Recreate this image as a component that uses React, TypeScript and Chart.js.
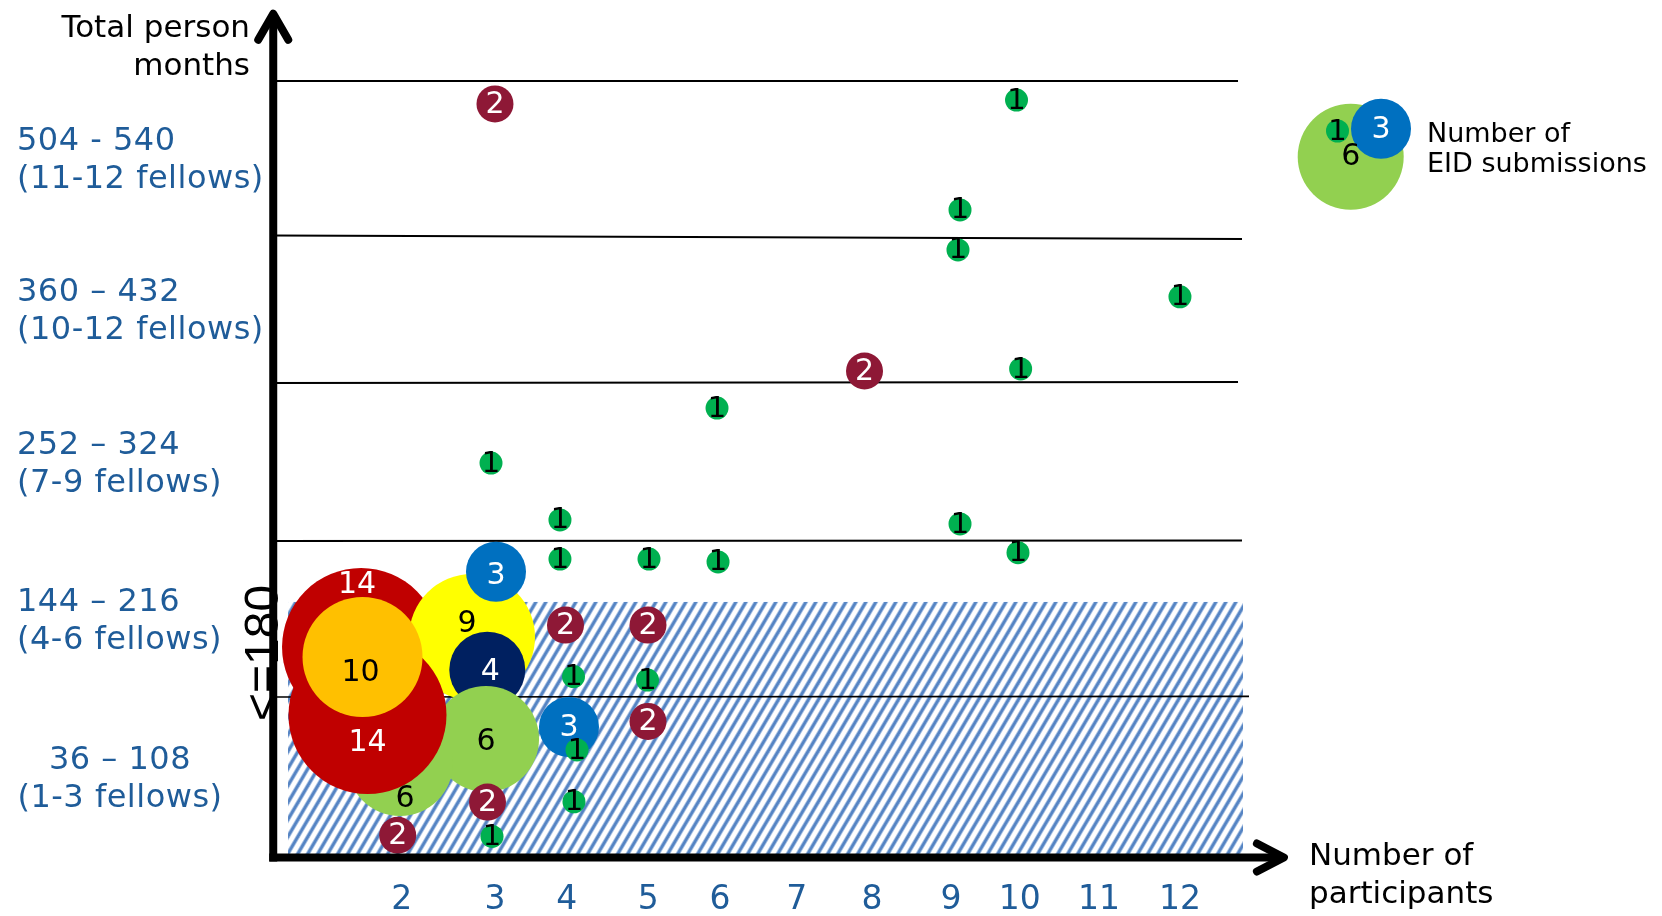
import React, { useEffect, useRef } from "react";
import { Chart, registerables } from "chart.js";

Chart.register(...registerables);

// ---------------- DATA ----------------
// Participant tick labels and where each one sits on the drawn axis (axis units)
const xTickLabels = ["2", "3", "4", "5", "6", "7", "8", "9", "10", "11", "12"];
const xTickPositions = [2.0, 3.199, 4.12, 5.169, 6.09, 7.076, 8.043, 9.059, 9.941, 10.96, 12.0];

// Person-month bands (y axis in band units, one band per unit)
const bandRanges = ["36 – 108", "144 – 216", "252 – 324", "360 – 432", "504 - 540"];
const bandFellows = ["(1-3 fellows)", "(4-6 fellows)", "(7-9 fellows)", "(10-12 fellows)", "(11-12 fellows)"];
const bandLineLeftY = [1.026, 2.032, 3.052, 4.003, 5.0];
const bandLineRightY = [1.03, 2.035, 3.058, 3.981, 5.0];
const bandLineEndX = [12.887, 12.797, 12.746, 12.797, 12.746];

// "<=180" person-month zone
const capText = "<=180";
const capTopY = 1.639;
const capStartX = 0.54;
const capEndX = 12.81;
const capLabelY = 1.31;

// Bubbles with several EID submissions (listed back to front)
const clusterParticipants = [1.478, 2.904, 3.1, 3.084, 1.979, 1.561, 1.497, 3.212, 4.15, 3.199, 7.947, 4.105, 5.165, 5.165, 3.103, 1.949];
const clusterMonths = [1.348, 1.413, 1.202, 0.755, 0.6, 0.91, 1.284, 1.834, 0.832, 4.852, 3.129, 1.49, 1.49, 0.868, 0.348, 0.134];
const clusterSubmissions = [14, 9, 4, 6, 6, 14, 10, 3, 3, 2, 2, 2, 2, 2, 2, 2];

// Bubbles with a single EID submission
const singleParticipants = [9.9, 9.174, 9.148, 12.0, 9.953, 6.052, 3.148, 4.034, 9.174, 4.034, 5.178, 6.065, 9.919, 4.208, 5.159, 4.253, 4.214, 3.161];
const singleMonths = [4.877, 4.168, 3.91, 3.608, 3.142, 2.89, 2.535, 2.168, 2.142, 1.916, 1.916, 1.897, 1.957, 1.158, 1.135, 0.684, 0.35, 0.126];
const singleSubmissions = [1, 1, 1, 1, 1, 1, 1, 1, 1, 1, 1, 1, 1, 1, 1, 1, 1, 1];

// Legend key samples
const legendSamples = [6, 1, 3];

// ---------------- STYLE / LAYOUT ----------------
const W = 1662;
const H = 916;
const X_MIN = 0.35;
const X_MAX = 13.4;
const PX_PER_X = 77.83;
const X_ZERO_PX = 246;
const Y_MIN = 0;
const Y_MAX = 5.46;
const PX_PER_Y = 155;
const Y_ZERO_PX = 856;

const FONT = '"DejaVu Sans", Verdana, sans-serif';
const BLUE_TEXT = "#1F5C99";

const COLORS: Record<number, string> = {
  1: "#00B050",
  2: "#8E1836",
  3: "#0070C0",
  4: "#002060",
  6: "#92D050",
  9: "#FFFF00",
  10: "#FFC000",
  14: "#C00000",
};
const RADII: Record<number, number> = { 1: 11.5, 2: 18.5, 3: 30, 4: 38, 6: 53, 9: 63, 10: 60, 14: 79 };
const WHITE_TEXT = new Set([2, 3, 4, 14]);
// label nudges (px) for the cluster bubbles, keyed by index
const LABEL_NUDGE: Record<number, [number, number]> = {
  0: [-4, -63],
  1: [-5, -14],
  2: [3, 2],
  3: [0, 2],
  4: [5, 35],
  5: [0, 27],
  6: [-2, 15],
  7: [0, 3],
};

function makeHatch(ctx: CanvasRenderingContext2D) {
  const c = document.createElement("canvas");
  const w = 10;
  const h = 17;
  c.width = w;
  c.height = h;
  const g = c.getContext("2d")!;
  g.fillStyle = "#ffffff";
  g.fillRect(0, 0, w, h);
  const paint = (t: number, color: string) => {
    g.fillStyle = color;
    for (const off of [-w, 0, w]) {
      g.beginPath();
      g.moveTo(off - t / 2, h);
      g.lineTo(off + t / 2, h);
      g.lineTo(off + w + t / 2, 0);
      g.lineTo(off + w - t / 2, 0);
      g.closePath();
      g.fill();
    }
  };
  paint(5, "#A9C2E4");
  paint(3, "#5584C3");
  return ctx.createPattern(c, "repeat");
}

function drawCount(ctx: CanvasRenderingContext2D, n: number, x: number, y: number) {
  ctx.font = (n === 1 ? "29px " : "30px ") + FONT;
  ctx.fillStyle = WHITE_TEXT.has(n) ? "#ffffff" : "#000000";
  ctx.textAlign = "center";
  ctx.textBaseline = "middle";
  ctx.fillText(String(n), x, y + 1);
}

const decorPlugin = {
  id: "decor",
  beforeDatasetsDraw(chart: any) {
    const { ctx } = chart;
    const xs = chart.scales.x;
    const ys = chart.scales.y;
    ctx.save();
    const pat = makeHatch(ctx);
    if (pat) ctx.fillStyle = pat;
    const x0 = xs.getPixelForValue(capStartX);
    const x1 = xs.getPixelForValue(capEndX);
    const yT = ys.getPixelForValue(capTopY);
    const yB = ys.getPixelForValue(0);
    ctx.fillRect(x0, yT, x1 - x0, yB - yT);
    ctx.restore();
  },
  afterDatasetDraw(chart: any, args: any) {
    const ds = chart.data.datasets[args.index];
    const counts: number[] | undefined =
      ds.label === "cluster" ? clusterSubmissions : ds.label === "single" ? singleSubmissions : undefined;
    if (!counts) return;
    const ctx = chart.ctx;
    ctx.save();
    args.meta.data.forEach((el: any, i: number) => {
      const nudge = ds.label === "cluster" && LABEL_NUDGE[i] ? LABEL_NUDGE[i] : [0, 0];
      drawCount(ctx, counts[i], el.x + nudge[0], el.y + nudge[1]);
    });
    ctx.restore();
  },
  afterDraw(chart: any) {
    const { ctx, chartArea } = chart;
    const xs = chart.scales.x;
    const ys = chart.scales.y;
    ctx.save();

    // axes with arrowheads
    const ax = chartArea.left;
    const ay = ys.getPixelForValue(0) + 1.5;
    ctx.strokeStyle = "#000";
    ctx.lineWidth = 8;
    ctx.lineCap = "butt";
    ctx.beginPath();
    ctx.moveTo(ax, ay + 4);
    ctx.lineTo(ax, chartArea.top + 6);
    ctx.stroke();
    ctx.beginPath();
    ctx.moveTo(ax - 4, ay);
    ctx.lineTo(chartArea.right - 6, ay);
    ctx.stroke();
    ctx.lineCap = "round";
    ctx.lineJoin = "round";
    ctx.beginPath();
    ctx.moveTo(ax - 15, chartArea.top + 30);
    ctx.lineTo(ax, chartArea.top + 4);
    ctx.lineTo(ax + 15, chartArea.top + 30);
    ctx.stroke();
    const tipX = chartArea.right - 5;
    ctx.beginPath();
    ctx.moveTo(tipX - 27, ay - 14);
    ctx.lineTo(tipX, ay);
    ctx.lineTo(tipX - 27, ay + 14);
    ctx.stroke();

    // x tick labels
    ctx.fillStyle = BLUE_TEXT;
    ctx.font = "33px " + FONT;
    ctx.textAlign = "center";
    ctx.textBaseline = "alphabetic";
    xTickLabels.forEach((lab, i) => {
      ctx.fillText(lab, xs.getPixelForValue(xTickPositions[i]), 909);
    });

    // band labels
    ctx.font = "32px " + FONT;
    (ctx as any).letterSpacing = "0.5px";
    bandRanges.forEach((lab, i) => {
      const lo = i === 0 ? 0 : bandLineLeftY[i - 1];
      const hi = bandLineLeftY[i];
      const cy = ys.getPixelForValue((lo + hi) / 2);
      if (i === 0) {
        ctx.textAlign = "center";
        ctx.fillText(lab, 120, cy - 7.8);
        ctx.fillText(bandFellows[i], 120, cy + 30.2);
      } else {
        ctx.textAlign = "left";
        ctx.fillText(lab, 17, cy - 7.8);
        ctx.fillText(bandFellows[i], 17, cy + 30.2);
      }
    });
    (ctx as any).letterSpacing = "0px";

    // axis titles
    ctx.fillStyle = "#000";
    ctx.font = "31px " + FONT;
    ctx.textAlign = "right";
    ctx.fillText("Total person", 250, 37);
    ctx.fillText("months", 250, 75);
    ctx.textAlign = "left";
    ctx.fillText("Number of", 1309, 865);
    ctx.fillText("participants", 1309, 903);

    // <=180 zone label
    ctx.save();
    ctx.translate(277.5, ys.getPixelForValue(capLabelY));
    ctx.rotate(-Math.PI / 2);
    ctx.font = '48px "Liberation Sans", Arial, sans-serif';
    ctx.textAlign = "center";
    ctx.textBaseline = "alphabetic";
    ctx.fillStyle = "#000";
    ctx.fillText(capText, 0, 0);
    ctx.restore();

    // legend key
    const legendPos: Record<number, [number, number]> = {
      6: [1350.7, 156.7],
      1: [1337.5, 131],
      3: [1381, 128.8],
    };
    legendSamples.forEach((n) => {
      const [lx, ly] = legendPos[n];
      ctx.beginPath();
      ctx.fillStyle = COLORS[n];
      ctx.arc(lx, ly, RADII[n], 0, Math.PI * 2);
      ctx.fill();
    });
    legendSamples.forEach((n) => {
      const [lx, ly] = legendPos[n];
      drawCount(ctx, n, lx, ly);
    });
    ctx.fillStyle = "#000";
    ctx.font = "27px " + FONT;
    ctx.textAlign = "left";
    ctx.textBaseline = "alphabetic";
    ctx.fillText("Number of", 1427, 142);
    ctx.fillText("EID submissions", 1427, 172);

    ctx.restore();
  },
};

export default function App() {
  const ref = useRef<HTMLCanvasElement | null>(null);

  useEffect(() => {
    if (!ref.current) return;
    const lineSets = bandLineLeftY.map((ly, i) => ({
      type: "line" as const,
      label: "band" + i,
      data: [
        { x: X_MIN, y: ly },
        { x: bandLineEndX[i], y: bandLineRightY[i] },
      ],
      borderColor: "#000",
      borderWidth: i === 0 ? 1.6 : 2,
      pointRadius: 0,
      fill: false,
      order: 3,
      clip: false as any,
    }));

    const chart = new Chart(ref.current, {
      type: "bubble",
      data: {
        datasets: [
          ...lineSets,
          {
            label: "cluster",
            data: clusterParticipants.map((x, i) => ({ x, y: clusterMonths[i], r: RADII[clusterSubmissions[i]] })),
            backgroundColor: clusterSubmissions.map((n) => COLORS[n]),
            borderWidth: 0,
            order: 2,
            clip: false as any,
          },
          {
            label: "single",
            data: singleParticipants.map((x, i) => ({ x, y: singleMonths[i], r: RADII[singleSubmissions[i]] })),
            backgroundColor: singleSubmissions.map((n) => COLORS[n]),
            borderWidth: 0,
            order: 1,
            clip: false as any,
          },
        ] as any,
      },
      options: {
        animation: false,
        responsive: false,
        events: [],
        layout: {
          autoPadding: false,
          padding: {
            left: X_ZERO_PX + X_MIN * PX_PER_X,
            right: W - (X_ZERO_PX + X_MAX * PX_PER_X),
            top: Y_ZERO_PX - Y_MAX * PX_PER_Y,
            bottom: H - Y_ZERO_PX,
          },
        },
        plugins: { legend: { display: false }, tooltip: { enabled: false } },
        scales: {
          x: { type: "linear", min: X_MIN, max: X_MAX, display: false },
          y: { type: "linear", min: Y_MIN, max: Y_MAX, display: false },
        },
      },
      plugins: [decorPlugin as any],
    });
    return () => chart.destroy();
  }, []);

  return (
    <div style={{ position: "absolute", left: 0, top: 0, width: W, height: H, background: "#fff" }}>
      <canvas ref={ref} width={W} height={H} style={{ display: "block", width: W, height: H }} />
    </div>
  );
}
